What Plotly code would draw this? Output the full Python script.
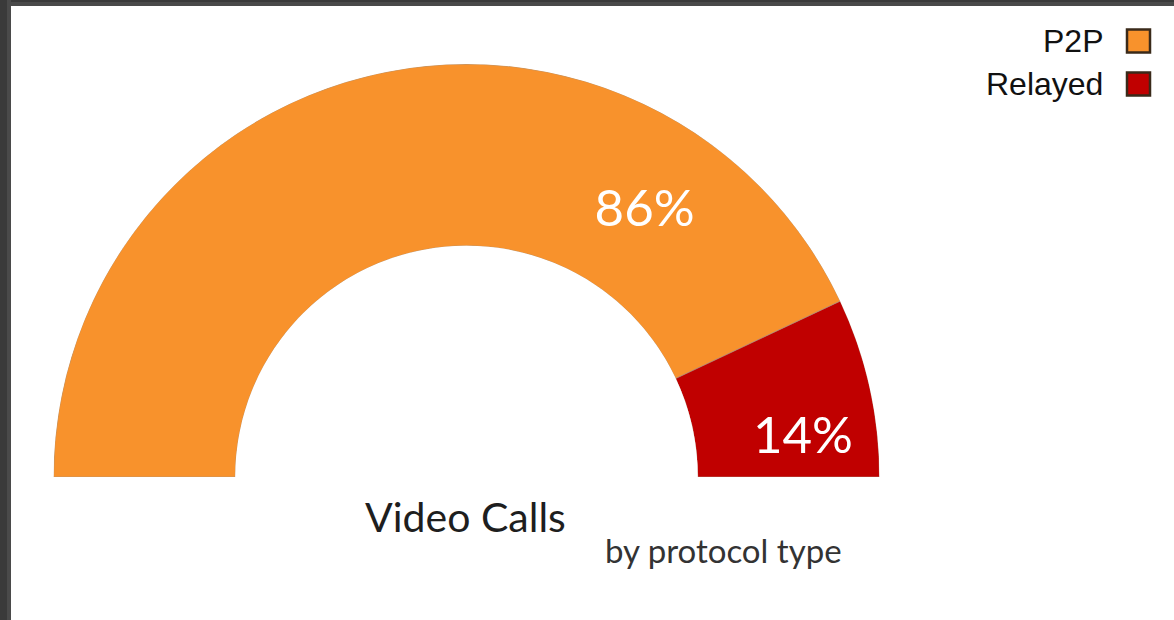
import plotly.graph_objects as go

# ---- data ----
categories = ["P2P", "Relayed"]
values = [86, 14]
colors = ["#F8922C", "#C00000"]
label_texts = ["86%", "14%"]
title_text = "Video Calls"
subtitle_text = "by protocol type"

W, H = 1174, 620
total = sum(values)

# angular geometry of the half donut (derived from data)
thetas, widths = [], []
cum = 0
for v in values:
    thetas.append(180 - 180 * (cum + v / 2) / total)
    widths.append(180 * v / total)
    cum += v

# label positions (layout constants)
label_theta = [56, 6.3]
label_r = [0.48, 0.59]

fig = go.Figure()
for cat, v, th, w, c in zip(categories, values, thetas, widths, colors):
    fig.add_trace(go.Barpolar(
        r=[1], theta=[th], width=[w], name=cat,
        marker=dict(color=c, line=dict(color="rgba(170,150,130,0.6)", width=1)),
        showlegend=False, hoverinfo="name",
    ))

fig.add_trace(go.Scatterpolar(
    r=label_r, theta=label_theta, mode="text", text=label_texts,
    textfont=dict(family="Lato", size=51, color="white"),
    showlegend=False, hoverinfo="skip",
))

fig.update_layout(
    width=W, height=H,
    margin=dict(l=0, r=0, t=0, b=0),
    paper_bgcolor="white",
    polar=dict(
        domain=dict(x=[53 / W, 880 / W], y=[(H - 477) / H, (H - 64) / H]),
        sector=[0, 180],
        hole=0.56,
        bgcolor="white",
        radialaxis=dict(visible=False, range=[0, 1]),
        angularaxis=dict(visible=False, direction="counterclockwise", rotation=0),
        barmode="overlay",
    ),
)

# title texts
fig.add_annotation(x=466 / W, y=(H - 516) / H, xref="paper", yref="paper",
                   text=title_text, showarrow=False,
                   font=dict(family="Lato", size=41, color="#1e1e1e"),
                   xanchor="center", yanchor="middle")
fig.add_annotation(x=723 / W, y=(H - 550) / H, xref="paper", yref="paper",
                   text=subtitle_text, showarrow=False,
                   font=dict(family="Lato", size=33, color="#333333"),
                   xanchor="center", yanchor="middle")

# manual legend (text left, square right)
leg_y = [41, 84]
for cat, c, yy in zip(categories, colors, leg_y):
    fig.add_annotation(x=1105 / W, y=(H - yy) / H, xref="paper", yref="paper",
                       text=cat, showarrow=False,
                       font=dict(family="Liberation Sans", size=32, color="#111111"),
                       xanchor="right", yanchor="middle")
    fig.add_shape(type="rect", xref="paper", yref="paper",
                  x0=1127 / W, x1=1150 / W,
                  y0=(H - yy - 11.5) / H, y1=(H - yy + 11.5) / H,
                  fillcolor=c, line=dict(color="#3a2a1a", width=2.5))

# dark frame at top and left
fig.add_shape(type="rect", xref="paper", yref="paper", x0=0, x1=1, y0=1 - 6 / H, y1=1,
              fillcolor="#4a4a4a", line=dict(width=0), layer="above")
fig.add_shape(type="rect", xref="paper", yref="paper", x0=0, x1=1, y0=1 - 2 / H, y1=1,
              fillcolor="#3a3a3a", line=dict(width=0), layer="above")
fig.add_shape(type="rect", xref="paper", yref="paper", x0=0, x1=11 / W, y0=0, y1=1,
              fillcolor="#4a4a4a", line=dict(width=0), layer="above")
fig.add_shape(type="rect", xref="paper", yref="paper", x0=0, x1=7 / W, y0=0, y1=1,
              fillcolor="#3a3a3a", line=dict(width=0), layer="above")

fig.write_html("out.html")
